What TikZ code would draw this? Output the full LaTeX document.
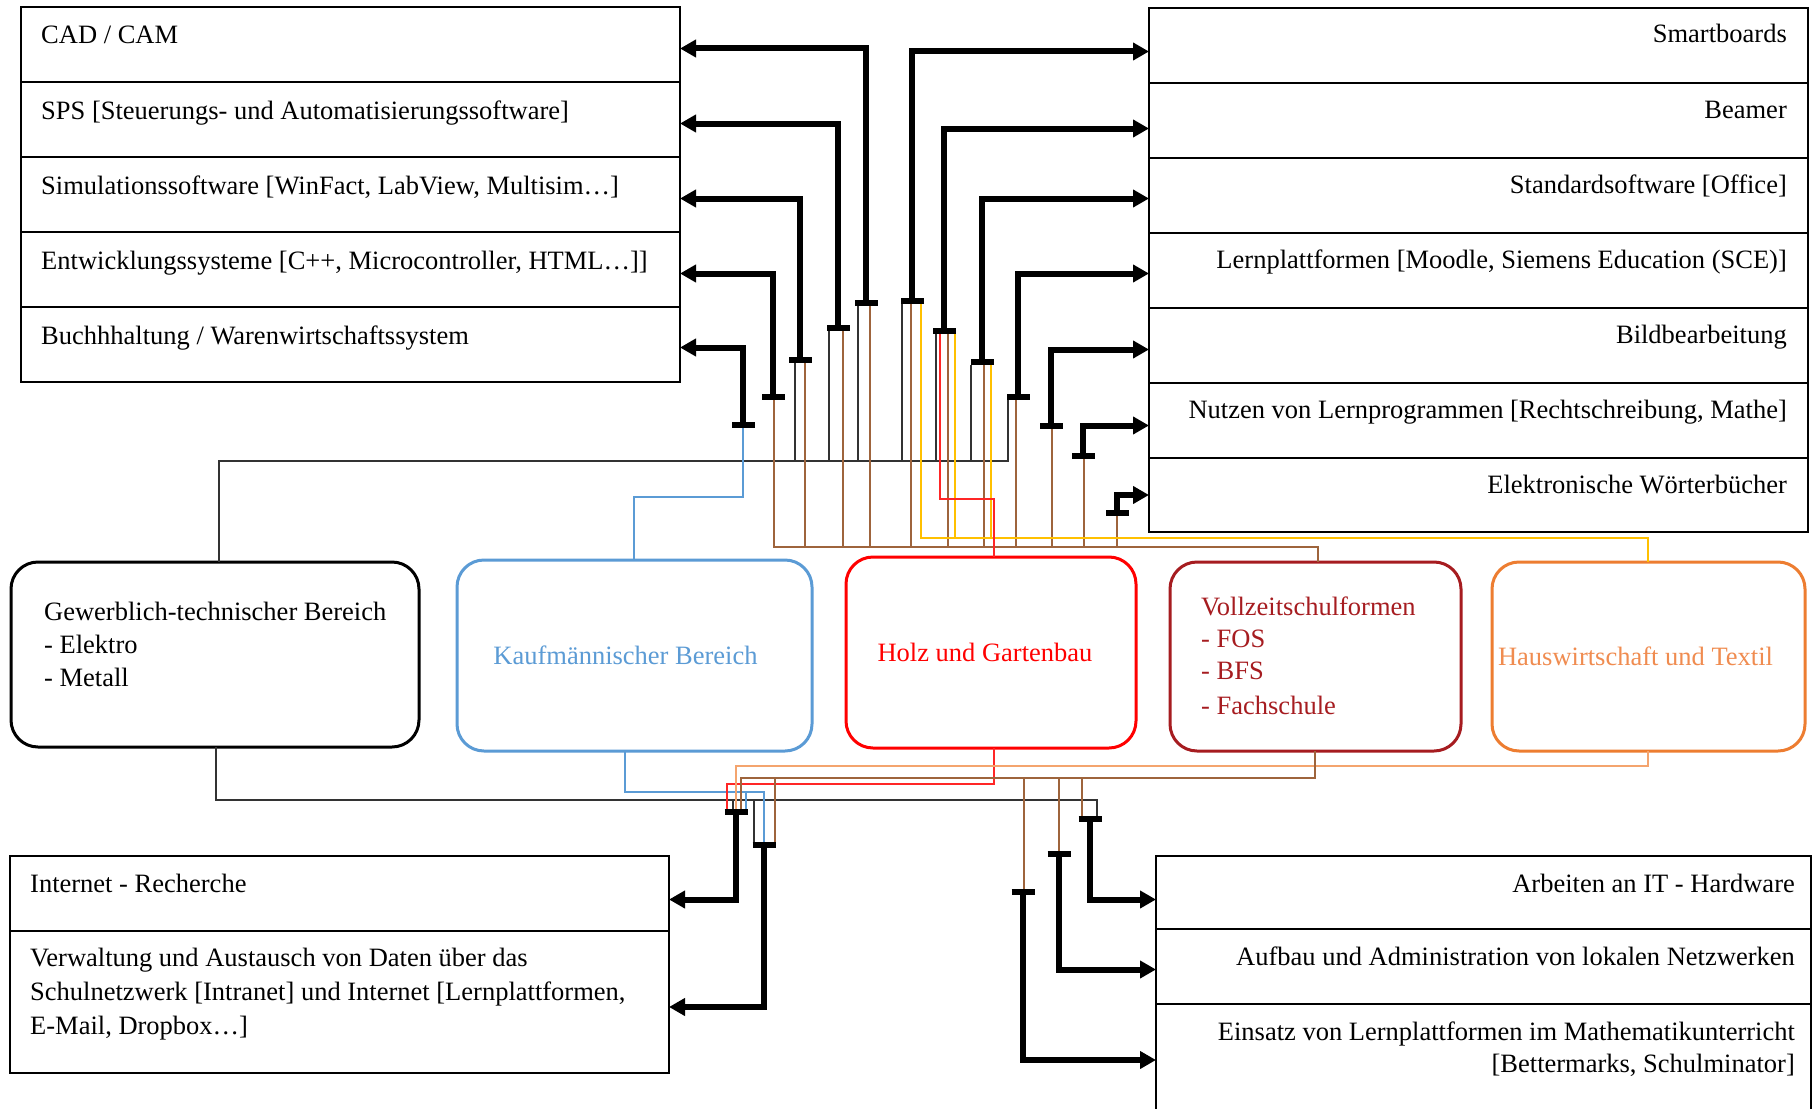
\documentclass[tikz,border=0pt]{standalone}
\usepackage{fontspec}
\setmainfont{Liberation Serif}
\usetikzlibrary{arrows.meta}

\definecolor{kfmblue}{RGB}{91,155,213}
\definecolor{holzred}{RGB}{255,0,0}
\definecolor{vzsred}{RGB}{166,28,32}
\definecolor{vzsbrown}{RGB}{158,100,60}
\definecolor{hworange}{RGB}{237,125,49}
\definecolor{hwtext}{RGB}{240,140,80}
\definecolor{hwyellow}{RGB}{255,192,0}
\definecolor{hwpeach}{RGB}{244,164,110}

\tikzset{
  rowbox/.style={draw, line width=2pt, anchor=north west, inner sep=0pt, outer sep=0pt,
    minimum width=659pt, minimum height=75pt},
  rowtext/.style={inner sep=0pt},
  area/.style={draw, rounded corners=27pt, line width=3pt, anchor=north west,
    inner sep=0pt, outer sep=0pt},
  feed/.style={line width=6pt, {Bar[width=23pt]}-{Triangle[length=16pt,width=17pt]}},
  gewline/.style={line width=1.4pt, draw=black!80},
  kfmline/.style={line width=1.4pt, draw=kfmblue},
  holzline/.style={line width=1.4pt, draw=holzred!85},
  vzsline/.style={line width=1.4pt, draw=vzsbrown},
  hwline/.style={line width=1.4pt, draw=hwyellow},
  hwlow/.style={line width=1.4pt, draw=hwpeach},
}

\begin{document}
\begin{tikzpicture}[x=1pt, y=-1pt, font=\fontsize{26.5}{33}\selectfont]
  \fill[white] (0,0) rectangle (1817,1108);
  \useasboundingbox (0,0) rectangle (1817,1108);

  % Drawing boxes upper left
  \node[rowbox] (cad) at (21,7) {};
  \node[rowbox] (sps) at (21,82) {};
  \node[rowbox] (sim) at (21,157) {};
  \node[rowbox] (entw) at (21,232) {};
  \node[rowbox] (buch) at (21,307) {};
  \node[rowtext, anchor=base west] (cadT) at ([shift={(20,37)}]cad.north west) {CAD / CAM};
  \node[rowtext, anchor=base west] (spsT) at ([shift={(20,37)}]sps.north west) {SPS [Steuerungs- und Automatisierungssoftware]};
  \node[rowtext, anchor=base west] (simT) at ([shift={(20,37)}]sim.north west) {Simulationssoftware [WinFact, LabView, Multisim…]};
  \node[rowtext, anchor=base west] (entwT) at ([shift={(20,37)}]entw.north west) {Entwicklungssysteme [C++, Microcontroller, HTML…]]};
  \node[rowtext, anchor=base west] (buchT) at ([shift={(20,37)}]buch.north west) {Buchhhaltung / Warenwirtschaftssystem};

  % Drawing boxes upper right
  \node[rowbox] (smart) at (1149,8) {};
  \node[rowbox] (beamer) at (1149,83) {};
  \node[rowbox] (office) at (1149,158) {};
  \node[rowbox] (lms) at (1149,233) {};
  \node[rowbox] (bild) at (1149,308) {};
  \node[rowbox] (prog) at (1149,383) {};
  \node[rowbox, minimum height=74pt] (dict) at (1149,458) {};
  \node[rowtext, anchor=base east] (smartT) at ([shift={(-21,35)}]smart.north east) {Smartboards};
  \node[rowtext, anchor=base east] (beamerT) at ([shift={(-21,35)}]beamer.north east) {Beamer};
  \node[rowtext, anchor=base east] (officeT) at ([shift={(-21,35)}]office.north east) {Standardsoftware [Office]};
  \node[rowtext, anchor=base east] (lmsT) at ([shift={(-21,35)}]lms.north east) {Lernplattformen [Moodle, Siemens Education (SCE)]};
  \node[rowtext, anchor=base east] (bildT) at ([shift={(-21,35)}]bild.north east) {Bildbearbeitung};
  \node[rowtext, anchor=base east] (progT) at ([shift={(-21,35)}]prog.north east) {Nutzen von Lernprogrammen [Rechtschreibung, Mathe]};
  \node[rowtext, anchor=base east] (dictT) at ([shift={(-21,35)}]dict.north east) {Elektronische Wörterbücher};

  % Drawing the five school areas
  \node[area, minimum width=408pt, minimum height=185pt] (gew) at (11,562) {};
  \node[area, draw=kfmblue, minimum width=355pt, minimum height=191pt] (kfm) at (457,560) {};
  \node[area, draw=holzred, minimum width=290pt, minimum height=191pt] (holz) at (846,557) {};
  \node[area, draw=vzsred, minimum width=291pt, minimum height=189pt] (vzs) at (1170,562) {};
  \node[area, draw=hworange, minimum width=313pt, minimum height=189pt] (hw) at (1492,562) {};
  \node[rowtext, anchor=base west] (gewT1) at ([shift={(33,58)}]gew.north west) {Gewerblich-technischer Bereich};
  \node[rowtext, anchor=base west] (gewT2) at ([shift={(0,33)}]gewT1.base west) {- Elektro};
  \node[rowtext, anchor=base west] (gewT3) at ([shift={(0,33)}]gewT2.base west) {- Metall};
  \node[rowtext, text=kfmblue] (kfmT) at ([xshift=-9pt]kfm.center) {Kaufmännischer Bereich};
  \node[rowtext, text=holzred] (holzT) at ([xshift=-6pt]holz.center) {Holz und Gartenbau};
  \node[rowtext, anchor=base west, text=vzsred] (vzsT1) at ([shift={(31,53)}]vzs.north west) {Vollzeitschulformen};
  \node[rowtext, anchor=base west, text=vzsred] (vzsT2) at ([shift={(0,32)}]vzsT1.base west) {- FOS};
  \node[rowtext, anchor=base west, text=vzsred] (vzsT3) at ([shift={(0,32)}]vzsT2.base west) {- BFS};
  \node[rowtext, anchor=base west, text=vzsred] (vzsT4) at ([shift={(0,35)}]vzsT3.base west) {- Fachschule};
  \node[rowtext, text=hwtext] (hwT) at ([xshift=-13pt]hw.center) {Hauswirtschaft und Textil};

  % Drawing boxes lower left
  \node[rowbox] (inet) at (10,856) {};
  \node[rowbox, minimum height=142pt] (data) at (10,931) {};
  \node[rowtext, anchor=base west] (inetT) at ([shift={(20,36)}]inet.north west) {Internet - Recherche};
  \node[rowtext, anchor=base west] (dataT1) at ([shift={(20,35)}]data.north west) {Verwaltung und Austausch von Daten über das};
  \node[rowtext, anchor=base west] (dataT2) at ([shift={(0,34)}]dataT1.base west) {Schulnetzwerk [Intranet] und Internet [Lernplattformen,};
  \node[rowtext, anchor=base west] (dataT3) at ([shift={(0,34)}]dataT2.base west) {E-Mail, Dropbox…]};

  % Drawing boxes lower right
  \node[rowbox, minimum width=655pt, minimum height=73pt] (hard) at (1156,856) {};
  \node[rowbox, minimum width=655pt] (netz) at (1156,929) {};
  \node[rowbox, minimum width=655pt, minimum height=112pt] (mathe) at (1156,1004) {};
  \node[rowtext, anchor=base east] (hardT) at ([shift={(-16,36)}]hard.north east) {Arbeiten an IT - Hardware};
  \node[rowtext, anchor=base east] (netzT) at ([shift={(-16,36)}]netz.north east) {Aufbau und Administration von lokalen Netzwerken};
  \node[rowtext, anchor=base east] (matheT1) at ([shift={(-16,36)}]mathe.north east) {Einsatz von Lernplattformen im Mathematikunterricht};
  \node[rowtext, anchor=base east] (matheT2) at ([shift={(0,32)}]matheT1.base east) {[Bettermarks, Schulminator]};

  % Marking the tees of the thick arrows
  \coordinate (tCad) at (866,306);
  \coordinate (tSps) at (838,331);
  \coordinate (tSim) at (800,363);
  \coordinate (tEntw) at (773,400);
  \coordinate (tBuch) at (743,428);
  \coordinate (tSmart) at (912,304);
  \coordinate (tBeamer) at (944,334);
  \coordinate (tOffice) at (982,365);
  \coordinate (tLms) at (1018,400);
  \coordinate (tBild) at (1051,429);
  \coordinate (tProg) at (1083,459);
  \coordinate (tDict) at (1117,516);
  \coordinate (tInet) at (736,809);
  \coordinate (tData) at (764,842);
  \coordinate (tHard) at (1090,816);
  \coordinate (tNetz) at (1059,851);
  \coordinate (tMathe) at (1023,889);

  % Marking the corners of the thin lines
  \coordinate (gUp) at (219,461);
  \coordinate (vUp) at (1318,547);
  \coordinate (hUp) at (1648,538);
  \coordinate (rUp) at (994,499);
  \coordinate (kUp) at (634,497);
  \coordinate (gDown) at (216,800);
  \coordinate (kDown) at (625,792);
  \coordinate (rDown) at (994,784);
  \coordinate (hDown) at (1648,766);
  \coordinate (vDown) at (1315,778);

  % Drawing thin lines upwards
  \draw[gewline] (gew.north -| gUp) -- (gUp) -- ([xshift=-10pt]tLms |- gUp) -- ([xshift=-10pt]tLms);
  \foreach \t/\dx in {tSim/-5, tSps/-9, tCad/-8, tSmart/-10, tBeamer/-8, tOffice/-11}
    \draw[gewline] ([xshift=\dx pt]\t) -- ([xshift=\dx pt]\t |- gUp);
  \draw[vzsline] (vzs.north -| vUp) -- (vUp) -- ([xshift=1pt]tEntw |- vUp) -- ([xshift=1pt]tEntw);
  \foreach \t/\dx in {tSim/5, tSps/5, tCad/4, tSmart/-1, tBeamer/4, tOffice/2, tLms/-2, tBild/1, tProg/1, tDict/0}
    \draw[vzsline] ([xshift=\dx pt]\t) -- ([xshift=\dx pt]\t |- vUp);
  \draw[hwline] (hw.north -| hUp) -- (hUp) -- ([xshift=9pt]tSmart |- hUp) -- ([xshift=9pt]tSmart);
  \foreach \t/\dx in {tBeamer/11, tOffice/9}
    \draw[hwline] ([xshift=\dx pt]\t) -- ([xshift=\dx pt]\t |- hUp);
  \draw[holzline] (holz.north -| rUp) -- (rUp) -- ([xshift=-4pt]tBeamer |- rUp) -- ([xshift=-4pt]tBeamer);
  \draw[kfmline] (kfm.north -| kUp) -- (kUp) -| (tBuch);

  % Drawing thin lines downwards
  \draw[gewline] (gew.south -| gDown) -- (gDown) -- ([xshift=7pt]tHard |- gDown) -- ([xshift=7pt]tHard);
  \foreach \t/\dx in {tInet/-3, tData/-10}
    \draw[gewline] ([xshift=\dx pt]\t) -- ([xshift=\dx pt]\t |- gDown);
  \draw[kfmline] (kfm.south -| kDown) -- (kDown) -| (tData);
  \draw[kfmline] ([xshift=10pt]tInet) -- ([xshift=10pt]tInet |- kDown);
  \draw[holzline] (holz.south -| rDown) -- (rDown) -- ([xshift=-9pt]tInet |- rDown) -- ([xshift=-9pt]tInet);
  \draw[hwlow] (hw.south -| hDown) -- (hDown) -| (tInet);
  \draw[vzsline] (vzs.south -| vDown) -- (vDown) -- ([xshift=5pt]tInet |- vDown) -- ([xshift=5pt]tInet);
  \foreach \t/\dx in {tData/11, tMathe/1, tNetz/0, tHard/-8}
    \draw[vzsline] ([xshift=\dx pt]\t) -- ([xshift=\dx pt]\t |- vDown);

  % Drawing thick arrows to the left
  \draw[feed] (tCad) |- ([yshift=-4pt]cad.east);
  \draw[feed] (tSps) |- ([yshift=-4pt]sps.east);
  \draw[feed] (tSim) |- ([yshift=-4pt]sim.east);
  \draw[feed] (tEntw) |- ([yshift=-4pt]entw.east);
  \draw[feed] (tBuch) |- ([yshift=-3pt]buch.east);
  \draw[feed] (tInet) |- ([yshift=-6pt]inet.east);
  \draw[feed] (tData) |- ([yshift=-5pt]data.east);

  % Drawing thick arrows to the right
  \draw[feed] (tSmart) |- ([yshift=-6pt]smart.west);
  \draw[feed] (tBeamer) |- ([yshift=-8pt]beamer.west);
  \draw[feed] (tOffice) |- ([yshift=-3pt]office.west);
  \draw[feed] (tLms) |- ([yshift=-3pt]lms.west);
  \draw[feed] (tBild) |- ([yshift=-4pt]bild.west);
  \draw[feed] (tProg) |- ([yshift=-5pt]prog.west);
  \draw[feed] (tDict) |- (dict.west);
  \draw[feed] (tHard) |- ([yshift=-7pt]hard.west);
  \draw[feed] (tNetz) |- ([yshift=-3pt]netz.west);
  \draw[feed] (tMathe) |- (mathe.west);
\end{tikzpicture}
\end{document}
